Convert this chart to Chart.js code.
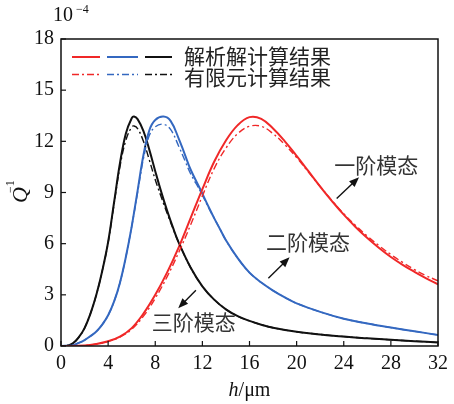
<!DOCTYPE html>
<html><head><meta charset="utf-8">
<script src="https://cdn.jsdelivr.net/npm/chart.js@4"></script>
<style>html,body{margin:0;padding:0;background:#fff;overflow:hidden}</style>
</head><body>
<canvas id="c" width="454" height="404"></canvas>
<script>
// ---- data (Q^-1 in units of 1e-4, h in μm) ----
const xTicks = [0,4,8,12,16,20,24,28,32];
const yTicks = [0,3,6,9,12,15,18];

const hMode1 = [0,2,3,4,5,6,7,8,9,10,11,12,13,14,15,16,17,18,19,20,21,22,23,24,25,26,27,28,29,30,31,32];
const qMode1Analytic = [0,0.03,0.12,0.28,0.55,1.05,1.9,3.0,4.3,5.8,7.5,9.2,10.8,12.05,12.95,13.42,13.32,12.75,12.0,11.15,10.25,9.35,8.5,7.7,6.98,6.33,5.75,5.22,4.76,4.35,3.97,3.62];
const qMode1FEM = [0,0.03,0.12,0.27,0.52,0.98,1.75,2.8,4.05,5.5,7.1,8.8,10.4,11.6,12.45,12.88,12.88,12.45,11.8,11.05,10.2,9.35,8.52,7.75,7.07,6.44,5.88,5.36,4.9,4.48,4.12,3.82];

const hMode2 = [0,1,1.5,2,2.5,3,3.5,4,4.5,5,5.5,6,6.5,7,7.5,8,8.7,9.3,10,10.5,11,11.85,12.5,13,13.5,14,15,16,17,18,19,20,22,24,26,28,30,32];
const qMode2Analytic = [0,0.05,0.18,0.35,0.58,0.85,1.25,1.8,2.6,3.7,5.2,7.0,9.1,11.2,12.65,13.25,13.45,13.2,12.15,11.25,10.35,9.15,8.2,7.5,6.85,6.2,5.15,4.3,3.72,3.25,2.85,2.5,2.0,1.6,1.32,1.08,0.86,0.65];
const qMode2FEM = [0,0.05,0.18,0.35,0.58,0.85,1.25,1.8,2.6,3.7,5.2,7.0,9.0,11.0,12.35,12.85,13.0,12.7,11.7,10.9,10.1,9.05,8.15,7.5,6.85,6.2,5.15,4.3,3.72,3.25,2.85,2.5,2.0,1.6,1.32,1.08,0.86,0.65];

const hMode3 = [0,0.5,1,1.5,2,2.5,3,3.5,4,4.5,5,5.5,6,6.2,6.5,7,7.5,8,8.5,9,9.5,10,11,12,13,14,15,16,17,18,20,22,24,26,28,30,32];
const qMode3Analytic = [0,0.02,0.15,0.5,1.05,1.9,3.0,4.4,6.1,8.4,10.7,12.45,13.35,13.45,13.3,12.6,11.5,10.25,9.05,7.95,6.95,6.05,4.6,3.5,2.72,2.15,1.75,1.47,1.25,1.07,0.83,0.68,0.55,0.45,0.36,0.28,0.21];
const qMode3FEM = [0,0.02,0.15,0.5,1.05,1.9,3.0,4.4,6.05,8.3,10.5,12.05,12.85,12.9,12.75,12.0,10.9,9.75,8.75,7.8,6.9,6.05,4.6,3.5,2.72,2.15,1.75,1.47,1.25,1.07,0.83,0.68,0.55,0.45,0.36,0.28,0.21];

const legendLabels = ['解析解计算结果','有限元计算结果'];
const modeLabels = ['一阶模态','二阶模态','三阶模态'];

// ---- styles ----
const RED = 'rgb(240,40,40)', BLUE = 'rgb(52,104,192)', BLACK = '#111';
const DASHDOT = [7,3,2,3];
const pts = (xs, ys) => xs.map((x,i)=>({x, y: ys[i]}));
function ds(label, xs, ys, color, dashed){
  return {label, data: pts(xs,ys), borderColor: color, backgroundColor: color,
    borderWidth: dashed ? 1.4 : 2, borderDash: dashed ? DASHDOT : [],
    pointRadius: 0, tension: 0.4, fill: false};
}
const datasets = [
  ds('mode1 FEM', hMode1, qMode1FEM, RED, true),
  ds('mode2 FEM', hMode2, qMode2FEM, BLUE, true),
  ds('mode3 FEM', hMode3, qMode3FEM, BLACK, true),
  ds('mode1 analytic', hMode1, qMode1Analytic, RED, false),
  ds('mode2 analytic', hMode2, qMode2Analytic, BLUE, false),
  ds('mode3 analytic', hMode3, qMode3Analytic, BLACK, false),
];

const SERIF = '"Liberation Serif", "DejaVu Serif", serif';
const CJK = '"Noto Sans CJK SC", sans-serif';

function arrow(ctx, x1, y1, x2, y2){
  const a = Math.atan2(y2-y1, x2-x1), L = 10, W = 4;
  ctx.beginPath(); ctx.moveTo(x1,y1);
  ctx.lineTo(x2 - L*0.8*Math.cos(a), y2 - L*0.8*Math.sin(a)); ctx.stroke();
  ctx.beginPath();
  ctx.moveTo(x2,y2);
  ctx.lineTo(x2 - L*Math.cos(a) + W*Math.sin(a), y2 - L*Math.sin(a) - W*Math.cos(a));
  ctx.lineTo(x2 - L*Math.cos(a) - W*Math.sin(a), y2 - L*Math.sin(a) + W*Math.cos(a));
  ctx.closePath(); ctx.fill();
}

const decor = {
  id: 'decor',
  afterDraw(chart){
    const ctx = chart.ctx, a = chart.chartArea, xs = chart.scales.x, ys = chart.scales.y;
    ctx.save();
    // frame
    ctx.strokeStyle = '#111'; ctx.lineWidth = 1.5;
    ctx.strokeRect(a.left, a.top, a.right-a.left, a.bottom-a.top);
    // inward ticks
    ctx.lineWidth = 1.2;
    xTicks.forEach(v=>{ const p = xs.getPixelForValue(v);
      ctx.beginPath(); ctx.moveTo(p, a.bottom); ctx.lineTo(p, a.bottom-5); ctx.stroke(); });
    yTicks.forEach(v=>{ const p = ys.getPixelForValue(v);
      ctx.beginPath(); ctx.moveTo(a.left, p); ctx.lineTo(a.left+5, p); ctx.stroke(); });

    // legend
    const rows = [[datasets[3],datasets[4],datasets[5]],[datasets[0],datasets[1],datasets[2]]];
    const segs = [[72,100],[107,138],[145,172]];
    const rowY = [57, 74.5], textY = [56, 77];
    rows.forEach((row, r)=>{
      row.forEach((d, i)=>{
        ctx.strokeStyle = d.borderColor; ctx.lineWidth = d.borderWidth; ctx.setLineDash(d.borderDash);
        ctx.beginPath(); ctx.moveTo(segs[i][0], rowY[r]); ctx.lineTo(segs[i][1], rowY[r]); ctx.stroke();
      });
      ctx.setLineDash([]);
      ctx.fillStyle = '#222'; ctx.font = '21px ' + CJK; ctx.textAlign = 'left'; ctx.textBaseline = 'middle';
      ctx.fillText(legendLabels[r], 184, textY[r]);
    });

    // mode annotations (data coordinates)
    ctx.fillStyle = '#333'; ctx.font = '21px ' + CJK; ctx.textAlign = 'left'; ctx.textBaseline = 'middle';
    const X = v => xs.getPixelForValue(v), Y = v => ys.getPixelForValue(v);
    ctx.fillText(modeLabels[0], X(23.2), Y(10.6));
    ctx.fillText(modeLabels[1], X(17.4), Y(6.1));
    ctx.fillText(modeLabels[2], X(7.7), Y(1.4));
    ctx.strokeStyle = '#111'; ctx.fillStyle = '#111'; ctx.lineWidth = 1.4;
    arrow(ctx, X(23.4), Y(8.65), X(25.3), Y(9.9));
    arrow(ctx, X(17.6), Y(3.97), X(19.4), Y(5.2));
    arrow(ctx, X(11.45), Y(3.27), X(9.95), Y(2.22));

    // axis titles
    ctx.fillStyle = '#111';
    ctx.textBaseline = 'middle';
    ctx.font = 'italic 20px ' + SERIF; const wH = ctx.measureText('h').width;
    ctx.font = '20px ' + SERIF; const wR = ctx.measureText('/μm').width;
    const cx = (a.left + a.right)/2 - (wH + wR)/2;
    ctx.textAlign = 'left';
    ctx.font = 'italic 20px ' + SERIF; ctx.fillText('h', cx, 391);
    ctx.font = '20px ' + SERIF; ctx.fillText('/μm', cx + wH, 391);
    // y title: Q^-1 rotated
    ctx.save();
    ctx.translate(21, 195); ctx.rotate(-Math.PI/2);
    ctx.textAlign = 'center'; ctx.font = 'italic 22px ' + SERIF; ctx.fillText('Q', 0, 0);
    ctx.textAlign = 'left'; ctx.font = '12px ' + SERIF; ctx.fillText('−1', 2, -10);
    ctx.restore();
    // multiplier 10^-4
    ctx.textAlign = 'left'; ctx.font = '20px ' + SERIF; ctx.fillText('10', 53, 16);
    ctx.font = '12px ' + SERIF; ctx.fillText('−4', 76, 10);
    ctx.restore();
  }
};

new Chart(document.getElementById('c').getContext('2d'), {
  type: 'line',
  data: { datasets },
  options: {
    responsive: false, animation: false, devicePixelRatio: 1,
    layout: { padding: { left: 0, right: 13, top: 39, bottom: 0 } },
    plugins: { legend: { display: false }, tooltip: { enabled: false } },
    scales: {
      x: { type: 'linear', min: 0, max: 32,
        afterBuildTicks: s => { s.ticks = xTicks.map(v=>({value:v})); },
        ticks: { font: { family: SERIF, size: 20 }, color: '#111', padding: 6, maxRotation: 0, autoSkip: false },
        grid: { display: false, drawTicks: false }, border: { display: false },
        afterFit: s => { s.height = 58; } },
      y: { type: 'linear', min: 0, max: 18,
        afterBuildTicks: s => { s.ticks = yTicks.map(v=>({value:v})); },
        ticks: { font: { family: SERIF, size: 20 }, color: '#111', padding: 7, autoSkip: false },
        grid: { display: false, drawTicks: false }, border: { display: false },
        afterFit: s => { s.width = 61; } }
    }
  },
  plugins: [decor]
});
</script>
</body></html>
